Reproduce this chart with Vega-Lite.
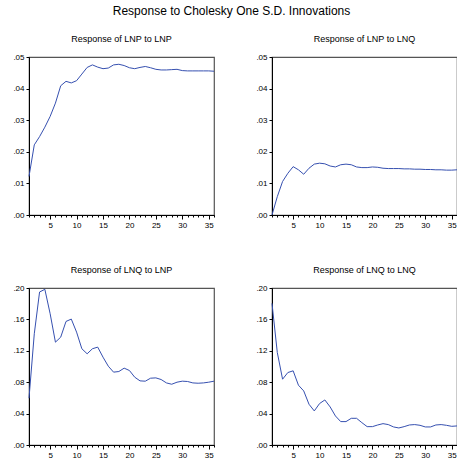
{
  "$schema": "https://vega.github.io/schema/vega-lite/v6.json",
  "padding": {"left": 3, "top": 5, "right": 0, "bottom": 0},
  "title": {"text": "Response to Cholesky One S.D. Innovations", "font": "Liberation Sans", "fontSize": 12, "fontWeight": "normal", "color": "black", "anchor": "middle", "offset": 16},
  "config": {
    "view": {"stroke": "#555555", "strokeWidth": 1.2},
    "font": "Liberation Sans",
    "title": {"font": "Liberation Sans", "fontSize": 9, "fontWeight": "normal", "color": "black", "offset": 9},
    "axis": {"labelFont": "Liberation Sans", "labelFontSize": 8, "labelColor": "black", "domainColor": "black", "tickColor": "black", "grid": false, "tickSize": 3, "labelPadding": 2, "title": null, "labelOverlap": false, "labelFlush": false},
    "axisX": {"tickSize": {"condition": {"test": "datum.value % 5 === 0", "value": 4}, "value": 2}, "labelPadding": 2},
    "axisY": {"minExtent": 25, "maxExtent": 25},
    "line": {"color": "#3650b0", "strokeWidth": 1}
  },
  "datasets": {
    "irf": [
      {"panel": "pp", "period": 1, "value": 0.0122}, {"panel": "pp", "period": 2, "value": 0.0222}, {"panel": "pp", "period": 3, "value": 0.0248}, {"panel": "pp", "period": 4, "value": 0.0278}, {"panel": "pp", "period": 5, "value": 0.0312}, {"panel": "pp", "period": 6, "value": 0.0354}, {"panel": "pp", "period": 7, "value": 0.0409}, {"panel": "pp", "period": 8, "value": 0.0423}, {"panel": "pp", "period": 9, "value": 0.0418}, {"panel": "pp", "period": 10, "value": 0.0425}, {"panel": "pp", "period": 11, "value": 0.0446}, {"panel": "pp", "period": 12, "value": 0.0467}, {"panel": "pp", "period": 13, "value": 0.0475}, {"panel": "pp", "period": 14, "value": 0.0468}, {"panel": "pp", "period": 15, "value": 0.0463}, {"panel": "pp", "period": 16, "value": 0.0465}, {"panel": "pp", "period": 17, "value": 0.0475}, {"panel": "pp", "period": 18, "value": 0.0477}, {"panel": "pp", "period": 19, "value": 0.0473}, {"panel": "pp", "period": 20, "value": 0.0466}, {"panel": "pp", "period": 21, "value": 0.0463}, {"panel": "pp", "period": 22, "value": 0.0467}, {"panel": "pp", "period": 23, "value": 0.0470}, {"panel": "pp", "period": 24, "value": 0.0466}, {"panel": "pp", "period": 25, "value": 0.0461}, {"panel": "pp", "period": 26, "value": 0.0459}, {"panel": "pp", "period": 27, "value": 0.0459}, {"panel": "pp", "period": 28, "value": 0.0460}, {"panel": "pp", "period": 29, "value": 0.0461}, {"panel": "pp", "period": 30, "value": 0.0457}, {"panel": "pp", "period": 31, "value": 0.0456}, {"panel": "pp", "period": 32, "value": 0.0456}, {"panel": "pp", "period": 33, "value": 0.0456}, {"panel": "pp", "period": 34, "value": 0.0456}, {"panel": "pp", "period": 35, "value": 0.0456}, {"panel": "pp", "period": 36, "value": 0.0455},
      {"panel": "pq", "period": 1, "value": 0.0000}, {"panel": "pq", "period": 2, "value": 0.0058}, {"panel": "pq", "period": 3, "value": 0.0106}, {"panel": "pq", "period": 4, "value": 0.0132}, {"panel": "pq", "period": 5, "value": 0.0153}, {"panel": "pq", "period": 6, "value": 0.0143}, {"panel": "pq", "period": 7, "value": 0.0129}, {"panel": "pq", "period": 8, "value": 0.0148}, {"panel": "pq", "period": 9, "value": 0.0161}, {"panel": "pq", "period": 10, "value": 0.0164}, {"panel": "pq", "period": 11, "value": 0.0162}, {"panel": "pq", "period": 12, "value": 0.0155}, {"panel": "pq", "period": 13, "value": 0.0152}, {"panel": "pq", "period": 14, "value": 0.0159}, {"panel": "pq", "period": 15, "value": 0.0161}, {"panel": "pq", "period": 16, "value": 0.0159}, {"panel": "pq", "period": 17, "value": 0.0152}, {"panel": "pq", "period": 18, "value": 0.0150}, {"panel": "pq", "period": 19, "value": 0.0150}, {"panel": "pq", "period": 20, "value": 0.0152}, {"panel": "pq", "period": 21, "value": 0.0151}, {"panel": "pq", "period": 22, "value": 0.0148}, {"panel": "pq", "period": 23, "value": 0.0147}, {"panel": "pq", "period": 24, "value": 0.0147}, {"panel": "pq", "period": 25, "value": 0.0147}, {"panel": "pq", "period": 26, "value": 0.0146}, {"panel": "pq", "period": 27, "value": 0.0146}, {"panel": "pq", "period": 28, "value": 0.0145}, {"panel": "pq", "period": 29, "value": 0.0145}, {"panel": "pq", "period": 30, "value": 0.0144}, {"panel": "pq", "period": 31, "value": 0.0144}, {"panel": "pq", "period": 32, "value": 0.0143}, {"panel": "pq", "period": 33, "value": 0.0143}, {"panel": "pq", "period": 34, "value": 0.0142}, {"panel": "pq", "period": 35, "value": 0.0142}, {"panel": "pq", "period": 36, "value": 0.0143},
      {"panel": "qp", "period": 1, "value": 0.0596}, {"panel": "qp", "period": 2, "value": 0.1417}, {"panel": "qp", "period": 3, "value": 0.1949}, {"panel": "qp", "period": 4, "value": 0.1983}, {"panel": "qp", "period": 5, "value": 0.1672}, {"panel": "qp", "period": 6, "value": 0.1310}, {"panel": "qp", "period": 7, "value": 0.1374}, {"panel": "qp", "period": 8, "value": 0.1574}, {"panel": "qp", "period": 9, "value": 0.1604}, {"panel": "qp", "period": 10, "value": 0.1438}, {"panel": "qp", "period": 11, "value": 0.1226}, {"panel": "qp", "period": 12, "value": 0.1162}, {"panel": "qp", "period": 13, "value": 0.1226}, {"panel": "qp", "period": 14, "value": 0.1247}, {"panel": "qp", "period": 15, "value": 0.1119}, {"panel": "qp", "period": 16, "value": 0.1004}, {"panel": "qp", "period": 17, "value": 0.0928}, {"panel": "qp", "period": 18, "value": 0.0936}, {"panel": "qp", "period": 19, "value": 0.0979}, {"panel": "qp", "period": 20, "value": 0.0949}, {"panel": "qp", "period": 21, "value": 0.0864}, {"panel": "qp", "period": 22, "value": 0.0817}, {"panel": "qp", "period": 23, "value": 0.0813}, {"panel": "qp", "period": 24, "value": 0.0851}, {"panel": "qp", "period": 25, "value": 0.0855}, {"panel": "qp", "period": 26, "value": 0.0834}, {"panel": "qp", "period": 27, "value": 0.0791}, {"panel": "qp", "period": 28, "value": 0.0774}, {"panel": "qp", "period": 29, "value": 0.0800}, {"panel": "qp", "period": 30, "value": 0.0813}, {"panel": "qp", "period": 31, "value": 0.0809}, {"panel": "qp", "period": 32, "value": 0.0791}, {"panel": "qp", "period": 33, "value": 0.0787}, {"panel": "qp", "period": 34, "value": 0.0791}, {"panel": "qp", "period": 35, "value": 0.0800}, {"panel": "qp", "period": 36, "value": 0.0813},
      {"panel": "qq", "period": 1, "value": 0.1804}, {"panel": "qq", "period": 2, "value": 0.1179}, {"panel": "qq", "period": 3, "value": 0.0838}, {"panel": "qq", "period": 4, "value": 0.0923}, {"panel": "qq", "period": 5, "value": 0.0945}, {"panel": "qq", "period": 6, "value": 0.0762}, {"panel": "qq", "period": 7, "value": 0.0689}, {"panel": "qq", "period": 8, "value": 0.0519}, {"panel": "qq", "period": 9, "value": 0.0434}, {"panel": "qq", "period": 10, "value": 0.0528}, {"panel": "qq", "period": 11, "value": 0.0574}, {"panel": "qq", "period": 12, "value": 0.0485}, {"panel": "qq", "period": 13, "value": 0.0370}, {"panel": "qq", "period": 14, "value": 0.0298}, {"panel": "qq", "period": 15, "value": 0.0298}, {"panel": "qq", "period": 16, "value": 0.0340}, {"panel": "qq", "period": 17, "value": 0.0340}, {"panel": "qq", "period": 18, "value": 0.0285}, {"panel": "qq", "period": 19, "value": 0.0234}, {"panel": "qq", "period": 20, "value": 0.0234}, {"panel": "qq", "period": 21, "value": 0.0255}, {"panel": "qq", "period": 22, "value": 0.0272}, {"panel": "qq", "period": 23, "value": 0.0260}, {"panel": "qq", "period": 24, "value": 0.0230}, {"panel": "qq", "period": 25, "value": 0.0217}, {"panel": "qq", "period": 26, "value": 0.0234}, {"panel": "qq", "period": 27, "value": 0.0255}, {"panel": "qq", "period": 28, "value": 0.0260}, {"panel": "qq", "period": 29, "value": 0.0251}, {"panel": "qq", "period": 30, "value": 0.0230}, {"panel": "qq", "period": 31, "value": 0.0230}, {"panel": "qq", "period": 32, "value": 0.0255}, {"panel": "qq", "period": 33, "value": 0.0260}, {"panel": "qq", "period": 34, "value": 0.0251}, {"panel": "qq", "period": 35, "value": 0.0238}, {"panel": "qq", "period": 36, "value": 0.0243}
    ]
  },
  "spacing": 35,
  "vconcat": [
    {
      "spacing": 29,
      "hconcat": [
        {
          "title": "Response of LNP to LNP",
          "width": 185, "height": 158,
          "data": {"name": "irf"},
          "transform": [{"filter": "datum.panel === 'pp'"}],
          "mark": "line",
          "encoding": {
            "x": {"field": "period", "type": "quantitative", "scale": {"domain": [1, 36], "nice": false, "zero": false}, "axis": {"values": [1,2,3,4,5,6,7,8,9,10,11,12,13,14,15,16,17,18,19,20,21,22,23,24,25,26,27,28,29,30,31,32,33,34,35,36], "labelExpr": "datum.value % 5 === 0 ? datum.label : ''"}},
            "y": {"field": "value", "type": "quantitative", "scale": {"domain": [0, 0.05], "nice": false}, "axis": {"values": [0, 0.01, 0.02, 0.03, 0.04, 0.05], "labelExpr": "replace(format(datum.value, '.2f'), '0.', '.')"}}
          }
        },
        {
          "title": "Response of LNP to LNQ",
          "width": 185, "height": 158,
          "data": {"name": "irf"},
          "transform": [{"filter": "datum.panel === 'pq'"}],
          "mark": "line",
          "encoding": {
            "x": {"field": "period", "type": "quantitative", "scale": {"domain": [1, 36], "nice": false, "zero": false}, "axis": {"values": [1,2,3,4,5,6,7,8,9,10,11,12,13,14,15,16,17,18,19,20,21,22,23,24,25,26,27,28,29,30,31,32,33,34,35,36], "labelExpr": "datum.value % 5 === 0 ? datum.label : ''"}},
            "y": {"field": "value", "type": "quantitative", "scale": {"domain": [0, 0.05], "nice": false}, "axis": {"values": [0, 0.01, 0.02, 0.03, 0.04, 0.05], "labelExpr": "replace(format(datum.value, '.2f'), '0.', '.')"}}
          }
        }
      ]
    },
    {
      "spacing": 29,
      "hconcat": [
        {
          "title": "Response of LNQ to LNP",
          "width": 185, "height": 157,
          "data": {"name": "irf"},
          "transform": [{"filter": "datum.panel === 'qp'"}],
          "mark": "line",
          "encoding": {
            "x": {"field": "period", "type": "quantitative", "scale": {"domain": [1, 36], "nice": false, "zero": false}, "axis": {"values": [1,2,3,4,5,6,7,8,9,10,11,12,13,14,15,16,17,18,19,20,21,22,23,24,25,26,27,28,29,30,31,32,33,34,35,36], "labelExpr": "datum.value % 5 === 0 ? datum.label : ''"}},
            "y": {"field": "value", "type": "quantitative", "scale": {"domain": [0, 0.2], "nice": false}, "axis": {"values": [0, 0.04, 0.08, 0.12, 0.16, 0.2], "labelExpr": "replace(format(datum.value, '.2f'), '0.', '.')"}}
          }
        },
        {
          "title": "Response of LNQ to LNQ",
          "width": 185, "height": 157,
          "data": {"name": "irf"},
          "transform": [{"filter": "datum.panel === 'qq'"}],
          "mark": "line",
          "encoding": {
            "x": {"field": "period", "type": "quantitative", "scale": {"domain": [1, 36], "nice": false, "zero": false}, "axis": {"values": [1,2,3,4,5,6,7,8,9,10,11,12,13,14,15,16,17,18,19,20,21,22,23,24,25,26,27,28,29,30,31,32,33,34,35,36], "labelExpr": "datum.value % 5 === 0 ? datum.label : ''"}},
            "y": {"field": "value", "type": "quantitative", "scale": {"domain": [0, 0.2], "nice": false}, "axis": {"values": [0, 0.04, 0.08, 0.12, 0.16, 0.2], "labelExpr": "replace(format(datum.value, '.2f'), '0.', '.')"}}
          }
        }
      ]
    }
  ]
}
